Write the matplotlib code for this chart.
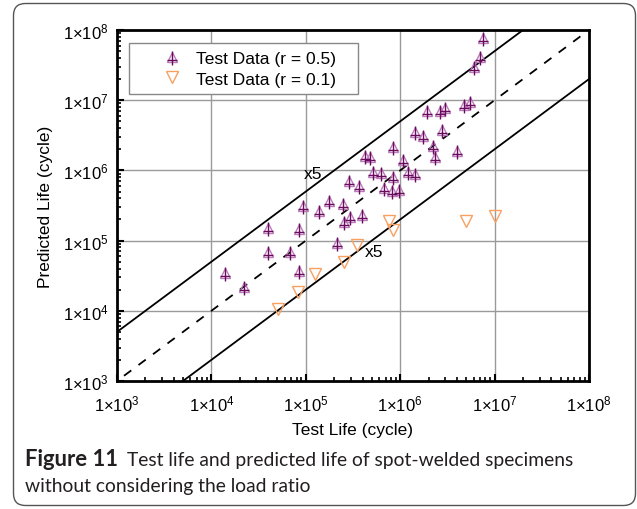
import numpy as np
import matplotlib
matplotlib.use("Agg")
import matplotlib.pyplot as plt
from matplotlib.path import Path
from matplotlib.lines import Line2D
from matplotlib.patches import FancyBboxPatch, Rectangle
from matplotlib.transforms import IdentityTransform
from matplotlib.legend_handler import HandlerTuple

plt.rcParams['font.family'] = ['Liberation Sans', 'DejaVu Sans']
plt.rcParams['mathtext.fontset'] = 'custom'
plt.rcParams['mathtext.rm'] = 'Liberation Sans'
plt.rcParams['mathtext.it'] = 'Liberation Sans:italic'
plt.rcParams['mathtext.bf'] = 'Liberation Sans:bold'

# ---- data ----
test_r05 = [1.39e4, 2.2e4, 3.95e4, 3.95e4, 6.85e4, 8.5e4, 8.5e4, 9.3e4, 1.37e5, 1.77e5,
            2.16e5, 2.52e5, 2.48e5, 2.94e5, 3.94e5, 2.89e5, 3.63e5, 4.2e5, 4.79e5, 5.19e5,
            6.27e5, 6.73e5, 8.45e5, 8.2e5, 9.77e5, 1.22e6, 1.44e6, 1.06e6, 2.34e6, 4.03e6,
            7.59e6, 7.0e6, 6.05e6, 4.78e6, 5.48e6, 1.94e6, 2.64e6, 2.99e6, 1.44e6, 1.76e6,
            2.75e6, 2.21e6, 8.45e5]
pred_r05 = [3.45e4, 2.18e4, 1.5e5, 6.8e4, 6.9e4, 1.46e5, 3.7e4, 3.14e5, 2.64e5, 3.63e5,
            9.25e4, 1.82e5, 3.32e5, 2.15e5, 2.34e5, 7.0e5, 5.93e5, 1.62e6, 1.54e6, 9.55e5,
            9.1e5, 5.56e5, 7.98e5, 5.14e5, 5.3e5, 9.55e5, 8.9e5, 1.42e6, 1.54e6, 1.91e6,
            7.6e7, 4.08e7, 3.0e7, 8.55e6, 9.33e6, 7.08e6, 7.08e6, 7.67e6, 3.49e6, 3.12e6,
            3.76e6, 2.25e6, 2.13e6]
test_r01 = [5.08e4, 8.26e4, 1.26e5, 2.54e5, 3.48e5, 7.55e5, 8.45e5, 4.98e6, 1.01e7]
pred_r01 = [1.06e4, 1.84e4, 3.34e4, 5.0e4, 8.65e4, 1.92e5, 1.42e5, 1.92e5, 2.26e5]

band_factor = 5
axis_min, axis_max = 1e3, 1e8
decades = [1e3, 1e4, 1e5, 1e6, 1e7, 1e8]
tick_labels = [r'$\mathregular{1{\times}10^{%d}}$' % e for e in range(3, 9)]

legend_labels = ['Test Data (r = 0.5)', 'Test Data (r = 0.1)']
xlabel = 'Test Life (cycle)'
ylabel = 'Predicted Life (cycle)'
caption_bold = 'Figure 11'
caption_line1 = 'Test life and predicted life of spot-welded specimens'
caption_line2 = 'without considering the load ratio'

# ---- figure ----
W, H = 637, 510
fig = plt.figure(figsize=(W / 100, H / 100), dpi=100)
ax = fig.add_axes([117 / W, 1 - 382 / H, (589 - 117) / W, (382 - 31) / H])
ax.set_xscale('log')
ax.set_yscale('log')
ax.set_xlim(axis_min, axis_max)
ax.set_ylim(axis_min, axis_max)

def ax_px(px, py):
    """pixel (from top-left of figure) -> axes fraction"""
    return (px - 117) / 472, (382 - py) / 351

# grid
for d in decades[1:-1]:
    ax.axvline(d, color='#9a9a9a', lw=1.0, zorder=0)
    ax.axhline(d, color='#9a9a9a', lw=1.0, zorder=0)

# reference lines
xl = np.array([axis_min / 10, axis_max * 10])
ax.plot(xl, xl * band_factor, color='black', lw=1.3, zorder=2)
ax.plot(xl, xl / band_factor, color='black', lw=1.3, zorder=2)
ax.plot(xl, xl, color='black', lw=1.3, ls=(0, (5, 5)), zorder=2)

ax.text(1.19e5, 8.9e5, 'x5', fontsize=12.5, ha='center', va='center', zorder=3)
ax.text(5.3e5, 6.9e4, 'x5', fontsize=12.5, ha='center', va='center', zorder=3)

# markers
tri_color = '#bb7cbb'
cross_color = '#6a0a5c'
orange = '#f7a060'
cross_path = Path([(0, 1.15), (0, -1.5), (-0.95, -0.6), (0.95, -0.6)],
                  [Path.MOVETO, Path.LINETO, Path.MOVETO, Path.LINETO])
ms_tri = 7.8
ms_cross = ms_tri * 1.5

ax.plot(test_r05, pred_r05, ls='none', marker='^', ms=ms_tri, mfc='none',
        mec=tri_color, mew=1.0, zorder=4)
ax.plot(test_r05, pred_r05, ls='none', marker=cross_path, ms=ms_cross,
        mec=cross_color, mew=1.0, zorder=5)
ax.plot(test_r01, pred_r01, ls='none', marker='v', ms=ms_tri + 1, mfc='none',
        mec=orange, mew=1.0, zorder=4)

# legend frame
fx0, fy1 = ax_px(129, 44)
fx1, fy0 = ax_px(358, 95)
ax.add_patch(Rectangle((fx0, fy0), fx1 - fx0, fy1 - fy0, transform=ax.transAxes,
                       facecolor='white', edgecolor='#888888', lw=1.0, zorder=9))

h1a = Line2D([], [], ls='none', marker='^', ms=ms_tri, mfc='none', mec=tri_color, mew=1.0)
h1b = Line2D([], [], ls='none', marker=cross_path, ms=ms_cross, mec=cross_color, mew=1.0)
h2 = Line2D([], [], ls='none', marker='v', ms=ms_tri + 1, mfc='none', mec=orange, mew=1.0)
fs_leg = 12.5
fs_px = fs_leg * 100 / 72
hl = 1.2
lx, ly = ax_px(172 - hl * fs_px / 2, 52)
leg = ax.legend([(h1a, h1b), h2], legend_labels, handler_map={tuple: HandlerTuple(ndivide=1)},
                loc='upper left', bbox_to_anchor=(lx, ly),
                borderaxespad=0, frameon=False, borderpad=0,
                fontsize=fs_leg, handlelength=hl,
                handletextpad=(196 - 172 - hl * fs_px / 2) / fs_px,
                labelspacing=0.3)
leg.set_zorder(10)

# ticks
ax.set_xticks(decades)
ax.set_yticks(decades)
ax.set_xticklabels(tick_labels)
ax.set_yticklabels(tick_labels)
ax.tick_params(which='major', direction='in', length=5, width=1.5, labelsize=12,
               top=False, right=False, pad=6)
ax.tick_params(which='minor', direction='in', length=3, width=1.2, top=False, right=False)
ax.tick_params(axis='x', pad=9)
for s in ax.spines.values():
    s.set_linewidth(2.0)
    s.set_color('black')

ax.set_xlabel(xlabel, fontsize=12.5, labelpad=6)
ax.set_ylabel(ylabel, fontsize=12.5, labelpad=7)

# caption
cap_font = ['Lato', 'DejaVu Sans']
cap_color = '#231f20'
fig.canvas.draw()
r = fig.canvas.get_renderer()
t_b = fig.text(25 / W, 1 - 466 / H, caption_bold, fontsize=15.8, fontweight='bold',
               family=cap_font, color=cap_color, va='baseline', ha='left')
bb = t_b.get_window_extent(r)
fig.text((bb.x1 + 9) / W, 1 - 466 / H, caption_line1, fontsize=13.9, family=cap_font,
         color=cap_color, va='baseline', ha='left')
fig.text(25 / W, 1 - 492 / H, caption_line2, fontsize=13.9, family=cap_font,
         color=cap_color, va='baseline', ha='left')

# border
box = FancyBboxPatch((13.5, 3.5), 622, 502, boxstyle='round,pad=0,rounding_size=12',
                     transform=IdentityTransform(), fill=False, edgecolor='#555555', lw=1.0)
fig.patches.append(box)

fig.savefig('out.png', dpi=100)
